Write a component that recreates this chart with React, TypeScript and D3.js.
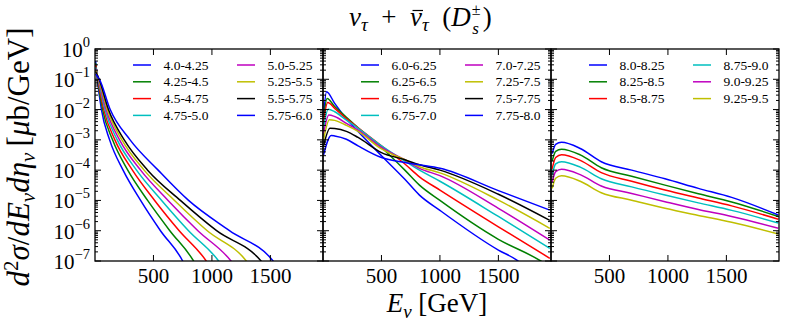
import { useEffect, useRef } from 'react';
import * as d3 from 'd3';

type Pt = [number, number];

// matplotlib classic colour cycle (b, g, r, c, m, y, k, b)
const colors = ['#0000ff', '#008000', '#ff0000', '#00bfbf', '#bf00bf', '#bfbf00', '#000000', '#0000ff'];

const labels1 = ['4.0-4.25', '4.25-4.5', '4.5-4.75', '4.75-5.0', '5.0-5.25', '5.25-5.5', '5.5-5.75', '5.75-6.0'];
const labels2 = ['6.0-6.25', '6.25-6.5', '6.5-6.75', '6.75-7.0', '7.0-7.25', '7.25-7.5', '7.5-7.75', '7.75-8.0'];
const labels3 = ['8.0-8.25', '8.25-8.5', '8.5-8.75', '8.75-9.0', '9.0-9.25', '9.25-9.5'];

// [E (GeV), d2sigma/dE deta (ub/GeV)]
const panel1Series: Pt[][] = [
  [[5, 4e-1], [20, 1e-1], [55, 1e-2], [125, 1e-3], [240, 1e-4], [390, 1e-5], [560, 1e-6], [750, 1e-7], [800, 4e-8]],
  [[5, 3.5e-1], [22, 1e-1], [65, 1e-2], [150, 1e-3], [280, 1e-4], [450, 1e-5], [640, 1e-6], [843, 1e-7], [900, 4e-8]],
  [[5, 3e-1], [25, 1e-1], [75, 1e-2], [170, 1e-3], [320, 1e-4], [510, 1e-5], [720, 1e-6], [951, 1e-7], [1000, 5e-8]],
  [[5, 2.5e-1], [28, 1e-1], [85, 1e-2], [190, 1e-3], [355, 1e-4], [570, 1e-5], [800, 1e-6], [1057, 1e-7], [1110, 5e-8]],
  [[5, 2.2e-1], [30, 1e-1], [95, 1e-2], [210, 1e-3], [390, 1e-4], [625, 1e-5], [880, 1e-6], [1163, 1e-7], [1220, 5e-8]],
  [[5, 2e-1], [32, 1e-1], [105, 1e-2], [230, 1e-3], [420, 1e-4], [680, 1e-5], [960, 1e-6], [1294, 1e-7], [1350, 5e-8]],
  [[5, 1.8e-1], [35, 1e-1], [115, 1e-2], [250, 1e-3], [450, 1e-4], [730, 1e-5], [1040, 1e-6], [1420, 1e-7], [1480, 5e-8]],
  [[5, 1.5e-1], [38, 1e-1], [130, 1e-2], [300, 1e-3], [540, 1e-4], [800, 1e-5], [1150, 1e-6], [1523, 1e-7], [1580, 5e-8]],
];

const panel2Series: Pt[][] = [
  [[5, 6.3e-3], [30, 3.9e-2], [100, 1.6e-2], [200, 5.0e-3], [300, 1.9e-3], [500, 3.0e-4], [700, 5.0e-5], [825, 1.5e-5], [1000, 4.7e-6], [1500, 2.3e-7], [1658, 1.07e-7], [1720, 7e-8]],
  [[5, 5.0e-3], [35, 2.3e-2], [100, 1.26e-2], [200, 5.6e-3], [300, 2.5e-3], [500, 5.6e-4], [700, 1.0e-4], [825, 3.2e-5], [1000, 1.0e-5], [1500, 5.2e-7], [1862, 1.0e-7], [1940, 6.3e-8]],
  [[5, 4.0e-3], [40, 1.7e-2], [100, 1.1e-2], [200, 5.0e-3], [300, 2.5e-3], [500, 6.3e-4], [700, 1.6e-4], [825, 6.0e-5], [1000, 2.2e-5], [1500, 1.35e-6], [1940, 1.23e-7]],
  [[5, 2.5e-3], [45, 1.02e-2], [100, 8.5e-3], [200, 4.5e-3], [300, 2.4e-3], [500, 6.3e-4], [700, 2.0e-4], [825, 1.0e-4], [1000, 4.3e-5], [1500, 2.95e-6], [1940, 2.6e-7]],
  [[5, 1.6e-3], [50, 6.6e-3], [100, 5.9e-3], [200, 3.5e-3], [300, 2.1e-3], [500, 5.6e-4], [700, 2.2e-4], [825, 1.15e-4], [1000, 6.6e-5], [1500, 5.5e-6], [1940, 4.9e-7]],
  [[5, 1.0e-3], [55, 4.6e-3], [100, 4.4e-3], [200, 3.0e-3], [300, 1.9e-3], [500, 5.0e-4], [700, 2.2e-4], [825, 1.3e-4], [1000, 8.1e-5], [1500, 1.02e-5], [1940, 1.2e-6]],
  [[5, 6.3e-4], [60, 2.4e-3], [100, 2.35e-3], [200, 1.9e-3], [300, 1.2e-3], [500, 3.8e-4], [700, 2.2e-4], [825, 1.5e-4], [1000, 1.0e-4], [1500, 1.6e-5], [1940, 2.2e-6]],
  [[5, 3.2e-4], [70, 1.4e-3], [100, 1.35e-3], [200, 1.05e-3], [300, 6.3e-4], [500, 2.6e-4], [700, 1.8e-4], [825, 1.5e-4], [1000, 1.15e-4], [1500, 2.1e-5], [1940, 4.8e-6]],
];

const panel3Energies = [10, 40, 90, 250, 430, 690, 975, 1260, 1545, 1944];
const panel3Values = [
  [3.5e-4, 7.1e-4, 8.3e-4, 5.2e-4, 1.9e-4, 1.0e-4, 5.2e-5, 2.5e-5, 1.26e-5, 3.3e-6],
  [2.0e-4, 4.2e-4, 4.9e-4, 3.2e-4, 1.2e-4, 6.3e-5, 3.2e-5, 1.66e-5, 8.9e-6, 2.95e-6],
  [1.1e-4, 2.6e-4, 3.2e-4, 2.1e-4, 8.3e-5, 4.3e-5, 2.2e-5, 1.2e-5, 6.6e-6, 2.4e-6],
  [7.1e-5, 1.6e-4, 1.9e-4, 1.26e-4, 5.2e-5, 2.8e-5, 1.5e-5, 8.3e-6, 4.7e-6, 1.8e-6],
  [4.0e-5, 8.9e-5, 1.07e-4, 7.1e-5, 3.0e-5, 1.7e-5, 9.1e-6, 5.0e-6, 2.95e-6, 1.2e-6],
  [2.5e-5, 5.4e-5, 6.5e-5, 4.3e-5, 1.8e-5, 1.02e-5, 5.5e-6, 3.2e-6, 1.9e-6, 7.8e-7],
];
const panel3Series: Pt[][] = panel3Values.map(vals => vals.map((v, i) => [panel3Energies[i], v] as Pt));

const yTickExponents = [0, -1, -2, -3, -4, -5, -6, -7];
const xTicks = [500, 1000, 1500];
const xDomain = [0, 1950];

const panels = [
  { series: panel1Series, labels: labels1 },
  { series: panel2Series, labels: labels2 },
  { series: panel3Series, labels: labels3 },
];

export default function App() {
  const svgRef = useRef<SVGSVGElement>(null);

  useEffect(() => {
    document.body.style.margin = '0';
    const svg = d3.select(svgRef.current);
    svg.selectAll('*').remove();

    const font = '"Liberation Serif", "Times New Roman", serif';
    const top = 49, bottom = 261, left = 95, panelW = 228;

    const y = d3.scaleLog().domain([1e-7, 1]).range([bottom, top]);

    // minor log ticks
    const minorTicks: number[] = [];
    for (let e = -7; e < 0; e++) {
      for (let m = 2; m <= 9; m++) minorTicks.push(m * Math.pow(10, e));
    }

    panels.forEach((p, i) => {
      const x0 = left + i * panelW;
      const x = d3.scaleLinear().domain(xDomain).range([x0, x0 + panelW]);

      const clipId = `clip-panel-${i}`;
      svg.append('clipPath').attr('id', clipId)
        .append('rect')
        .attr('x', x0).attr('y', top)
        .attr('width', panelW).attr('height', bottom - top);

      const line = d3.line<Pt>()
        .x(d => x(d[0]))
        .y(d => y(d[1]))
        .curve(d3.curveMonotoneX);

      const g = svg.append('g').attr('clip-path', `url(#${clipId})`);
      p.series.forEach((s, j) => {
        g.append('path')
          .datum(s)
          .attr('fill', 'none')
          .attr('stroke', colors[j])
          .attr('stroke-width', 1.5)
          .attr('stroke-linejoin', 'round')
          .attr('d', line);
      });

      // y ticks on both spines, pointing inward
      const ticks = svg.append('g').attr('stroke', '#000').attr('stroke-width', 1);
      yTickExponents.forEach(e => {
        const yy = y(Math.pow(10, e));
        ticks.append('line').attr('x1', x0).attr('x2', x0 + 6).attr('y1', yy).attr('y2', yy);
        ticks.append('line').attr('x1', x0 + panelW).attr('x2', x0 + panelW - 6).attr('y1', yy).attr('y2', yy);
      });
      minorTicks.forEach(v => {
        const yy = y(v);
        ticks.append('line').attr('x1', x0).attr('x2', x0 + 3).attr('y1', yy).attr('y2', yy);
        ticks.append('line').attr('x1', x0 + panelW).attr('x2', x0 + panelW - 3).attr('y1', yy).attr('y2', yy);
      });

      // x ticks top and bottom
      xTicks.forEach(t => {
        const xx = x(t);
        ticks.append('line').attr('x1', xx).attr('x2', xx).attr('y1', bottom).attr('y2', bottom - 6);
        ticks.append('line').attr('x1', xx).attr('x2', xx).attr('y1', top).attr('y2', top + 6);
        svg.append('text')
          .attr('x', xx).attr('y', 283)
          .attr('text-anchor', 'middle')
          .style('font-family', font)
          .style('font-size', '21px')
          .text(t);
      });

      // frame
      svg.append('rect')
        .attr('x', x0).attr('y', top)
        .attr('width', panelW).attr('height', bottom - top)
        .attr('fill', 'none')
        .attr('stroke', '#000')
        .attr('stroke-width', 1.3);

      // legend, two columns
      const rows = Math.ceil(p.labels.length / 2);
      p.labels.forEach((lab, j) => {
        const col = Math.floor(j / rows);
        const row = j % rows;
        const lx = x0 + (col === 0 ? 38 : 142);
        const ly = 65 + row * 16.8;
        svg.append('line')
          .attr('x1', lx).attr('x2', lx + 18)
          .attr('y1', ly).attr('y2', ly)
          .attr('stroke', colors[j])
          .attr('stroke-width', 1.5);
        svg.append('text')
          .attr('x', lx + 30.5).attr('y', ly + 4.5)
          .style('font-family', font)
          .style('font-size', '13.5px')
          .text(lab);
      });
    });

    // y tick labels
    yTickExponents.forEach(e => {
      const yy = y(Math.pow(10, e));
      const t = svg.append('text')
        .attr('x', 90).attr('y', yy + 8)
        .attr('text-anchor', 'end')
        .style('font-family', font)
        .style('font-size', '21px');
      t.append('tspan').text('10');
      t.append('tspan')
        .attr('dy', -10)
        .style('font-size', '14.5px')
        .text(e < 0 ? `\u2212${-e}` : `${e}`);
    });

    // y label
    const yl = svg.append('text')
      .attr('transform', 'translate(29,157) rotate(-90)')
      .attr('text-anchor', 'middle')
      .style('font-family', font)
      .style('font-size', '31px');
    const parts: [string, boolean, number, number][] = [
      ['d', true, 0, 31], ['2', false, -11, 21], ['\u03c3', true, 11, 31], ['/', false, 0, 31],
      ['dE', true, 0, 31], ['\u03bd', true, 6, 21], ['d\u03b7', true, -6, 31], ['\u03bd', true, 6, 21],
      ['\u2009[', false, -6, 31], ['\u03bc', true, 0, 31], ['b/GeV]', false, 0, 31],
    ];
    parts.forEach(([s, it, dy, fs]) => {
      yl.append('tspan')
        .attr('dy', dy)
        .style('font-style', it ? 'italic' : 'normal')
        .style('font-size', `${fs}px`)
        .text(s);
    });

    // x label
    const xl = svg.append('text')
      .attr('x', 437).attr('y', 312)
      .attr('text-anchor', 'middle')
      .style('font-family', font)
      .style('font-size', '27px');
    xl.append('tspan').style('font-style', 'italic').text('E');
    xl.append('tspan').attr('dy', 6).style('font-style', 'italic').style('font-size', '19px').text('\u03bd');
    xl.append('tspan').attr('dy', -6).text(' [GeV]');

    // title: nu_tau + nubar_tau (D_s^pm)
    const tt = svg.append('text')
      .attr('x', 349).attr('y', 26)
      .style('font-family', font)
      .style('font-size', '27px');
    tt.append('tspan').style('font-style', 'italic').text('\u03bd');
    tt.append('tspan').attr('dy', 5).style('font-style', 'italic').style('font-size', '19px').text('\u03c4');
    tt.append('tspan').attr('dy', -5).text('\u2002+\u2002');
    tt.append('tspan').style('font-style', 'italic').text('\u03bd');
    tt.append('tspan').attr('dy', 5).style('font-style', 'italic').style('font-size', '19px').text('\u03c4');
    tt.append('tspan').attr('dy', -5).text('\u2002(');
    tt.append('tspan').style('font-style', 'italic').text('D');

    const node = tt.node() as SVGTextElement;
    // bar over the second nu (index 5 in the text content)
    const s0 = node.getStartPositionOfChar(5);
    const s1 = node.getEndPositionOfChar(5);
    svg.append('line')
      .attr('x1', s0.x + 2.5).attr('x2', s1.x + 1)
      .attr('y1', 10.5).attr('y2', 10.5)
      .attr('stroke', '#000')
      .attr('stroke-width', 1.2);

    // stacked scripts on D, then closing paren
    const dEnd = node.getEndPositionOfChar(node.getNumberOfChars() - 1).x;
    svg.append('text')
      .attr('x', dEnd + 1).attr('y', 14.5)
      .style('font-family', font)
      .style('font-size', '16px')
      .text('\u00b1');
    svg.append('text')
      .attr('x', dEnd + 1.5).attr('y', 34)
      .style('font-family', font)
      .style('font-style', 'italic')
      .style('font-size', '17px')
      .text('s');
    svg.append('text')
      .attr('x', dEnd + 12).attr('y', 26)
      .style('font-family', font)
      .style('font-size', '27px')
      .text(')');
  }, []);

  return (
    <div style={{ position: 'fixed', left: 0, top: 0 }}>
      <svg ref={svgRef} width={789} height={333} style={{ display: 'block', background: '#fff' }}></svg>
    </div>
  );
}
